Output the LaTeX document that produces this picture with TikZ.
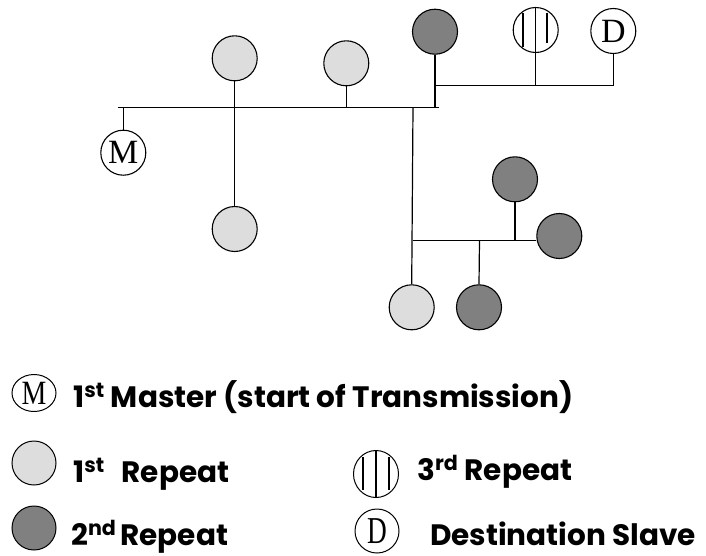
\documentclass[tikz,border=0pt]{standalone}
\usepackage{fontspec}
\setmainfont{Liberation Serif}
\newfontfamily\lgfont{Poppins}
\usetikzlibrary{shapes.geometric}
\definecolor{lightfill}{HTML}{DDDDDD}
\definecolor{darkfill}{HTML}{808080}
\tikzset{
  stn/.style={circle, draw, line width=1.1pt, minimum size=45pt, inner sep=0pt},
  lightstn/.style={stn, fill=lightfill},
  darkstn/.style={stn, fill=darkfill},
  wire/.style={line width=1.2pt},
  stripe/.style={line width=1.8pt},
  lgsym/.style={ellipse, draw, line width=1pt, inner sep=0pt, minimum width=44pt, minimum height=44pt},
  lbl/.style={anchor=base west, inner sep=0pt, font=\lgfont\bfseries\fontsize{29.5}{31}\selectfont},
  letter/.style={font=\fontsize{34}{34}\selectfont}
}
\begin{document}
\begin{tikzpicture}[x=1pt,y=-1pt]
\useasboundingbox (0,0) rectangle (706,555);
% stations
\node[stn, letter] (M) at (123.3,152.7) {M};
\node[lightstn] (L1) at (234.7,58.3) {};
\node[lightstn] (L2) at (346.3,63.3) {};
\node[darkstn] (T) at (435,31.7) {};
\node[stn] (S) at (535.7,30) {};
\node[stn, letter] (D) at (613.3,31) {D};
\node[lightstn] (L3) at (234.7,229) {};
\node[darkstn] (K1) at (515,179.3) {};
\node[darkstn] (K2) at (559.3,236) {};
\node[lightstn] (L4) at (411.7,307.3) {};
\node[darkstn] (K3) at (479,307.3) {};
% stripes of S
\begin{scope}[shift={(S.center)}]
  \draw[stripe] (-12.8,-16.7) -- (-12.8,16.7);
  \draw[stripe] (11,-17.3) -- (11,13.3);
\end{scope}
\draw[wire] (S.north) -- (S.south);
% junctions
\coordinate (busL) at (118,107.3);
\coordinate (busR) at (439,107.3);
\coordinate (mJ) at (123.3,107.3);
\coordinate (l2J) at (346.3,107.3);
\coordinate (tJ) at (435,107.3);
\coordinate (brT) at (435,85.7);
\coordinate (sJ) at (535.7,85.7);
\coordinate (dJ) at (613.3,85.7);
\coordinate (vJ) at (413,107.3);
\coordinate (b2L) at (413,240.3);
\coordinate (k1J) at (515,240.3);
\coordinate (k3J) at (479.5,240.3);
% wires
\draw[wire] (busL) -- (busR);
\draw[wire] (mJ) -- (M.north);
\draw[wire] (L1.south) -- (L3.north);
\draw[wire] (L2.south) -- (l2J);
\draw[wire] (T.south) -- (tJ);
\draw[wire] (brT) -- (dJ);
\draw[wire] (S.south) -- (sJ);
\draw[wire] (D.south) -- (dJ);
\draw[wire] (vJ) -- (L4.north);
\draw[wire] (b2L) -- (b2L -| K2.west);
\draw[wire] (K1.south) -- (k1J);
\draw[wire] (K3.north) -- (k3J);
% legend
\node[lgsym, minimum height=37pt] (gM) at (34,393) {\fontsize{34}{34}\selectfont\scalebox{0.82}[1]{M}};
\node[lgsym, fill=lightfill] (gL) at (34,463) {};
\node[lgsym, fill=darkfill] (gK) at (34,528) {};
\node[lgsym, minimum width=45pt, minimum height=47pt] (gS) at (376,474) {};
\begin{scope}[shift={(gS.center)}]
  \draw[stripe] (-13,-17) -- (-13,16);
  \draw[stripe] (13,-17) -- (13,16);
\end{scope}
\draw[line width=1.4pt] (gS.north) -- (gS.south);
\node[lgsym] (gD) at (377,531) {\fontsize{38}{38}\selectfont\scalebox{0.72}[1]{D}};
\node[lbl] (tM) at (73,407) {1\textsuperscript{st} Master (start of Transmission)};
\node[lbl] (tL) at (73,482) {1\textsuperscript{st}\hspace{17pt}Repeat};
\node[lbl] (tK) at (71,545) {2\textsuperscript{nd}\hspace{4pt}Repeat};
\node[lbl] (tS) at (417,480) {3\textsuperscript{rd} Repeat};
\node[lbl] (tD) at (430,545) {Destination Slave};
\end{tikzpicture}
\end{document}
